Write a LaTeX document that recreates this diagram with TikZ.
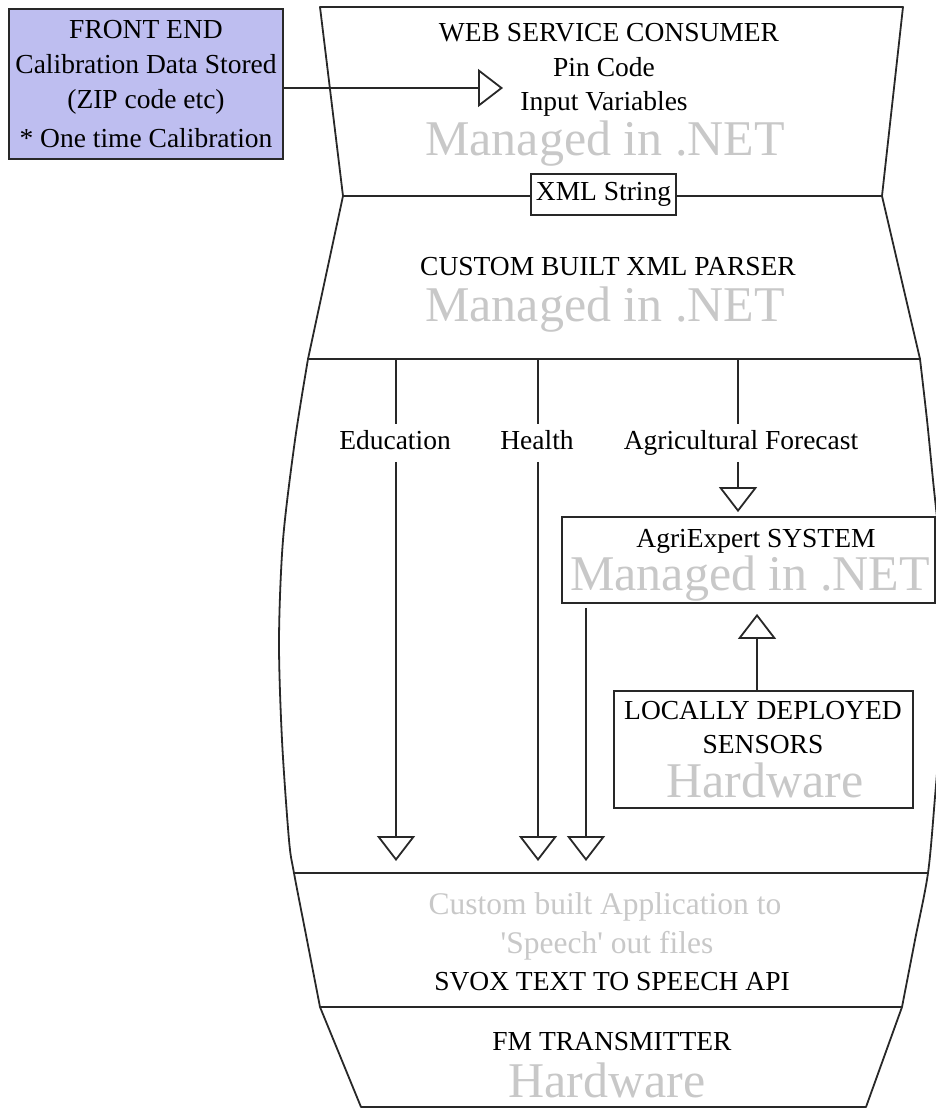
\documentclass[tikz,border=0pt]{standalone}
\usepackage{fontspec}
\setmainfont{Liberation Serif}
\usetikzlibrary{arrows.meta}
\definecolor{frontfill}{RGB}{190,190,240}
\definecolor{wmgray}{RGB}{200,200,200}
\definecolor{linegray}{RGB}{40,40,40}

\begin{document}
\begin{tikzpicture}[x=1pt,y=-1pt,line width=1.8pt,
    outline/.style={draw=linegray,line join=round},
    box/.style={draw=linegray,line width=1.8pt,inner sep=0pt},
    lbl/.style={inner sep=0pt,anchor=base,font=\fontsize{27.5}{35}\selectfont},
    wm/.style={inner sep=0pt,anchor=base,text=wmgray,text height=31pt,text depth=0pt,
      font=\fontsize{50}{50}\selectfont},
    wmsmall/.style={wm,text height=20pt,font=\fontsize{31.5}{38}\selectfont},
    flow/.style={inner sep=5.5pt,text height=19pt,text depth=6pt,font=\fontsize{27.5}{35}\selectfont},
    tri/.style={-{Triangle[length=25pt,width=38pt,fill=white]}}]
  \useasboundingbox (0,0) rectangle (936,1109);
  \clip (0,0) rectangle (936,1109);

  % corners of the vase
  \coordinate (tl) at (320,7);
  \coordinate (tr) at (903,7);
  \coordinate (al) at (343,196);
  \coordinate (ar) at (882,196);
  \coordinate (bl) at (308,359);
  \coordinate (br) at (920,359);
  \coordinate (cl) at (294,873);
  \coordinate (cr) at (928,873);
  \coordinate (dl) at (320,1007);
  \coordinate (dr) at (902,1007);
  \coordinate (el) at (361,1107);
  \coordinate (er) at (866,1107);

  \draw[outline] (bl) -- (al) -- (tl) -- (tr) -- (ar) -- (br);
  \draw[outline] plot[smooth] coordinates {(308,359) (295,440) (283,540) (279,640)
      (282,740) (289,840) (294,873) (307,940) (320,1007)}
    -- (el) -- (er) -- (dr)
    -- plot[smooth] coordinates {(902,1007) (915,940) (928,873) (935,797)
      (941,720) (944,640) (941,560) (933,480) (927,420) (920,359)};
  \draw[outline] (al) -- (ar);
  \draw[outline] (bl) -- (br);
  \draw[outline] (cl) -- (cr);
  \draw[outline] (dl) -- (dr);

  % front end
  \node[box,fill=frontfill,minimum width=274pt,minimum height=150pt,align=center,
    font=\fontsize{27.5}{35}\selectfont] (front) at (146,84)
    {FRONT END\\Calibration Data Stored\\(ZIP code etc)\\[4pt]* One time Calibration};
  \coordinate (pinin) at (503,88);
  \draw[outline,tri] (front.east |- pinin) -- (pinin);

  % web service consumer
  \node[lbl] (wsc) at (609,41) {WEB SERVICE CONSUMER};
  \node[lbl] (pin) at (604,76) {Pin Code};
  \node[lbl] (inv) at (604,110) {Input Variables};
  \node[wm] (wm1) at (605,155) {Managed in .NET};
  \node[box,fill=white,minimum width=145pt,minimum height=41pt,
    font=\fontsize{27.5}{35}\selectfont] (xml) at (603.5,194.5) {XML String};

  % parser
  \node[lbl] (xp) at (608,275) {CUSTOM BUILT XML PARSER};
  \node[wm] (wm2) at (605,321) {Managed in .NET};

  % branches
  \node[flow] (edu) at (395,443) {Education};
  \node[flow] (hlt) at (537,443) {Health};
  \node[flow] (agf) at (741,443) {Agricultural Forecast};

  \node[box,minimum width=373pt,minimum height=86pt] (agri) at (748.5,560) {};
  \node[lbl] (agt) at (756,547) {AgriExpert SYSTEM};
  \node[wm] (wm3) at (750,590) {Managed in .NET};

  \node[box,minimum width=299pt,minimum height=117pt] (sens) at (763.5,749.5) {};
  \node[lbl] (sen1) at (763,719) {LOCALLY DEPLOYED};
  \node[lbl] (sen2) at (763,753) {SENSORS};
  \node[wm] (hw1) at (765,797) {Hardware};

  \coordinate (edtop) at (396,359);
  \coordinate (hltop) at (538,359);
  \coordinate (agtop) at (738,359);
  \coordinate (agout) at (586,603);
  \coordinate (senx) at (757,0);
  \coordinate (tipline) at (0,861);

  \draw[outline] (edtop) -- (edtop |- edu.north);
  \draw[outline,tri] (edtop |- edu.south) -- (edtop |- tipline);
  \draw[outline] (hltop) -- (hltop |- hlt.north);
  \draw[outline,tri] (hltop |- hlt.south) -- (hltop |- tipline);
  \draw[outline] (agtop) -- (agtop |- agf.north);
  \draw[outline,tri,shorten >=4pt] (agtop |- agf.south) -- (agtop |- agri.north);
  \draw[outline,tri,shorten <=4pt] (agri.south -| agout) -- (agout |- tipline);
  \draw[outline,tri,shorten >=10pt] (sens.north -| senx) -- (agri.south -| senx);

  % speech and transmitter
  \node[wmsmall] (app1) at (605,914) {Custom built Application to};
  \node[wmsmall] (app2) at (607,953) {\textquotesingle Speech\textquotesingle\ out files};
  \node[lbl] (svox) at (612,990) {SVOX TEXT TO SPEECH API};
  \node[lbl] (fm) at (612,1050) {FM TRANSMITTER};
  \node[wm] (hw2) at (607,1097) {Hardware};
\end{tikzpicture}
\end{document}
